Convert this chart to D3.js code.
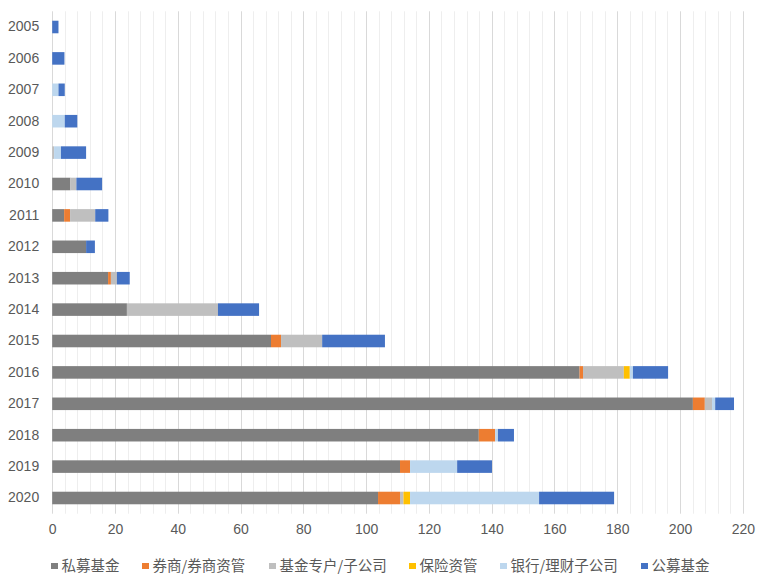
<!DOCTYPE html>
<html><head><meta charset="utf-8">
<script src="https://cdn.jsdelivr.net/npm/d3@7"></script>
<style>
html,body{margin:0;padding:0;background:#fff;}
svg text{font-family:"Liberation Sans",Arial,sans-serif;fill:#595959;}
.leg text{font-family:"Noto Sans CJK SC","Liberation Sans",sans-serif;}
</style></head>
<body>
<svg id="c" width="768" height="581"></svg>
<script>
const years = ["2005","2006","2007","2008","2009","2010","2011","2012","2013","2014","2015","2016","2017","2018","2019","2020"];
const seriesNames = ["私募基金","券商/券商资管","基金专户/子公司","保险资管","银行/理财子公司","公募基金"];
const privateFund = [0,0,0,0,0,5.8,3.8,10.8,17.8,23.8,69.7,168.0,204.1,135.9,110.8,103.8];
const broker      = [0,0,0,0,0,0,1.9,0,0.9,0,3.2,1.1,3.8,5.2,3.2,7.0];
const fundSub     = [0,0,0,0,0.6,1.9,8.0,0,1.9,29.0,13.1,13.0,2.3,0,0,1.1];
const insurance   = [0,0,0,0,0,0,0,0,0,0,0,1.9,0,0,0,2.1];
const bank        = [0,0,2.0,4.0,2.2,0,0,0,0,0,0,1.0,1.0,0.9,15.0,41.1];
const publicFund  = [2.0,3.9,2.0,4.0,8.0,8.2,4.2,2.8,4.1,13.1,20.0,11.2,6.0,5.1,11.1,23.9];
const xTicks = [0,20,40,60,80,100,120,140,160,180,200,220];
const colors = ["#7f7f7f","#ed7d31","#bfbfbf","#ffc000","#bdd7ee","#4472c4"];

(function(){
const seriesData = [privateFund, broker, fundSub, insurance, bank, publicFund];
const rows = years.map((y,i)=>{const o={year:y}; seriesNames.forEach((s,j)=>o[s]=seriesData[j][i]); return o;});
const stack = d3.stack().keys(seriesNames)(rows);

const svg = d3.select("#c");
const pL=52.2, pR=742.8, pT=11.3, pB=513.7;
const x = d3.scaleLinear().domain([0,220]).range([pL,pR]);
const y = d3.scaleBand().domain(years).range([pT,pB]).paddingInner(0.6).paddingOuter(0.3);

const minor = d3.range(0,221,4).filter(v=>v%20!==0);
svg.append("g").selectAll("line").data(minor).join("line")
  .attr("x1",d=>Math.round(x(d))+0.5).attr("x2",d=>Math.round(x(d))+0.5)
  .attr("y1",pT).attr("y2",pB).attr("stroke","#eeeeee").attr("stroke-width",1);
svg.append("g").selectAll("line").data(xTicks).join("line")
  .attr("x1",d=>Math.round(x(d))+0.5).attr("x2",d=>Math.round(x(d))+0.5)
  .attr("y1",pT).attr("y2",pB).attr("stroke","#d9d9d9").attr("stroke-width",1);

svg.append("g").selectAll("g").data(stack).join("g")
  .attr("fill",(d,i)=>colors[i])
  .selectAll("rect").data(d=>d).join("rect")
  .attr("x",d=>x(d[0])).attr("width",d=>Math.max(0,x(d[1])-x(d[0])))
  .attr("y",d=>y(d.data.year)).attr("height",y.bandwidth());

const ff='"Liberation Sans",Arial,sans-serif';
const xa = svg.append("g").attr("transform",`translate(0,${pB})`)
  .call(d3.axisBottom(x).tickValues(xTicks).tickSize(0).tickPadding(10));
xa.select(".domain").remove();
xa.selectAll("text").attr("font-size",14).style("font-family",ff).attr("fill","#595959");
const ya = svg.append("g").attr("transform",`translate(${pL},0)`)
  .call(d3.axisLeft(y).tickSize(0).tickPadding(13));
ya.select(".domain").remove();
ya.selectAll("text").attr("font-size",14).style("font-family",ff).attr("fill","#595959");

const legX = [51,142,269,409,500,641];
const leg = svg.append("g").attr("class","leg");
seriesNames.forEach((s,i)=>{
  const g = leg.append("g").attr("transform",`translate(${legX[i]},566)`);
  g.append("rect").attr("x",0).attr("y",-3).attr("width",7).attr("height",6).attr("fill",colors[i]);
  g.append("text").attr("x",10.5).attr("y",0).attr("dy","0.35em").attr("font-size",14.5).attr("fill","#595959").text(s);
});
})();
</script>
</body></html>
